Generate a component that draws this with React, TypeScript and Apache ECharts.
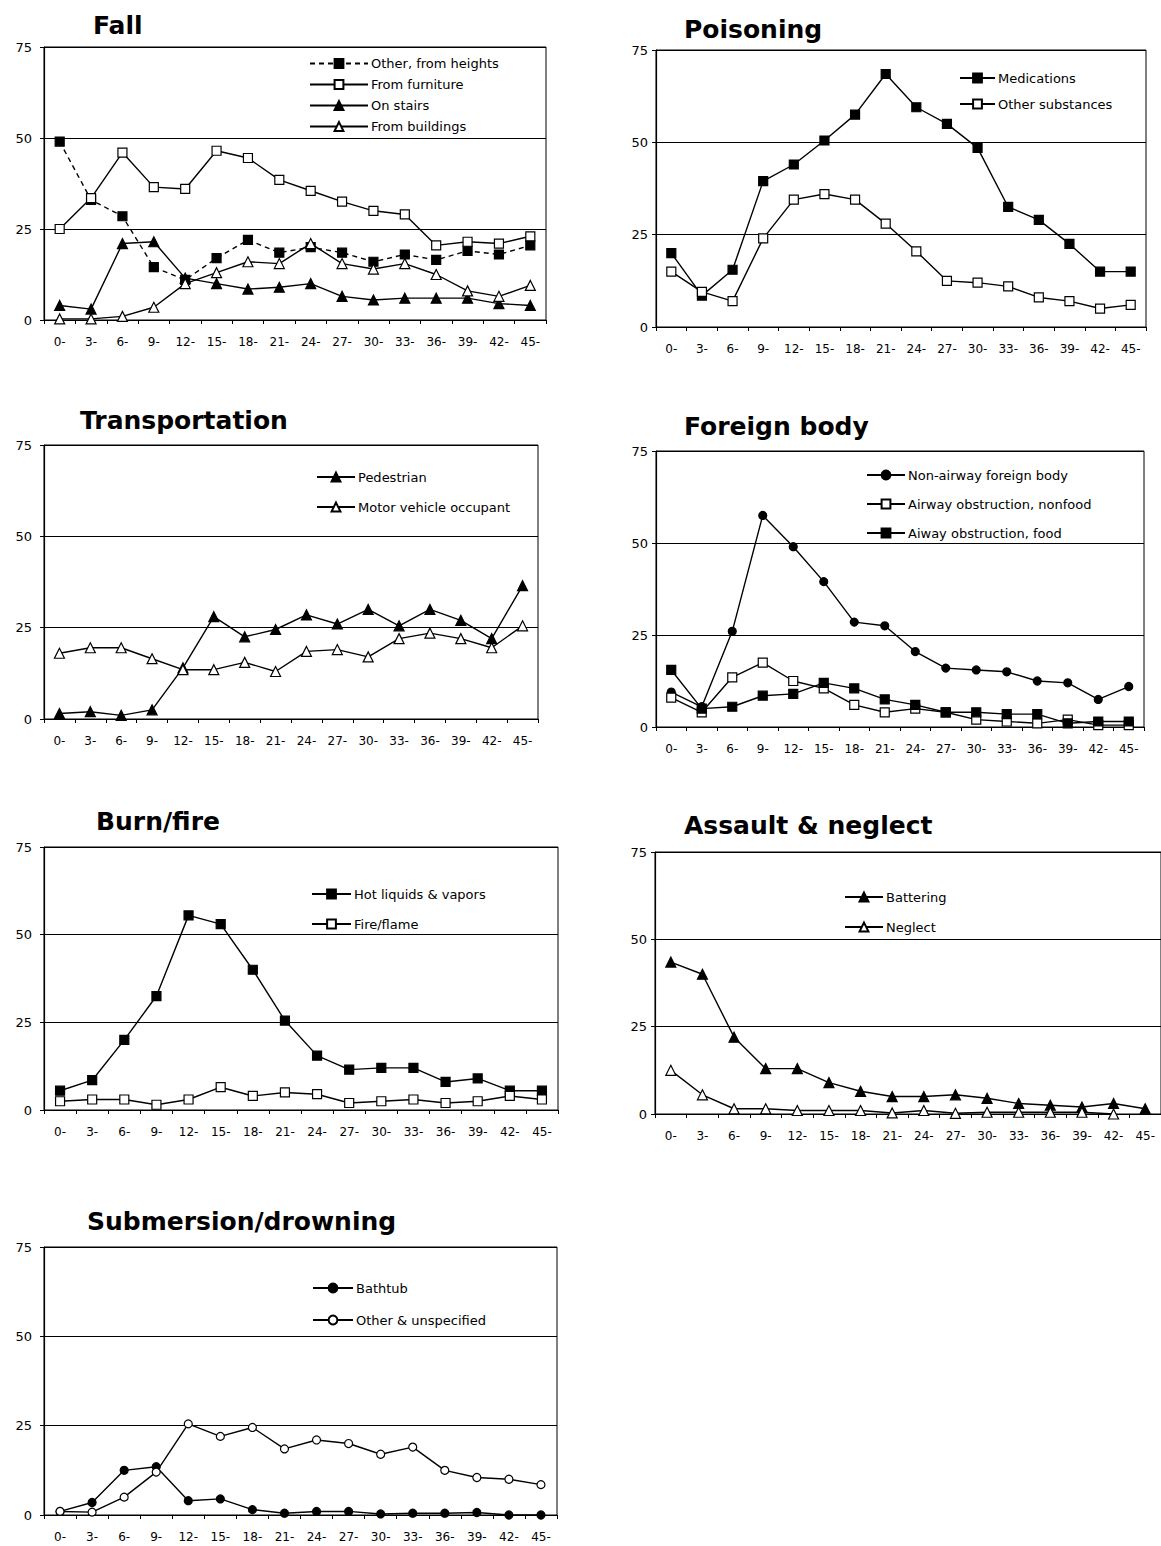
import React, { useEffect, useRef } from "react";
import * as echarts from "echarts";

const ageGroups = ["0-", "3-", "6-", "9-", "12-", "15-", "18-", "21-", "24-", "27-", "30-", "33-", "36-", "39-", "42-", "45-"];
const yTicks = [0, 25, 50, 75];

// Fall
const fallOtherHeights = [49, 33, 28.5, 14.5, 11, 17, 22, 18.5, 20, 18.5, 16, 18, 16.5, 19, 18, 20.5];
const fallFurniture = [25, 33.5, 46, 36.5, 36, 46.5, 44.5, 38.5, 35.5, 32.5, 30, 29, 20.5, 21.5, 21, 23];
const fallStairs = [4, 3, 21, 21.5, 11.5, 10, 8.5, 9, 10, 6.5, 5.5, 6, 6, 6, 4.5, 4];
const fallBuildings = [0.3, 0.3, 1, 3.5, 10, 13, 16, 15.5, 21, 15.5, 14, 15.5, 12.5, 8, 6.5, 9.5];

// Poisoning
const medications = [20, 8.5, 15.5, 39.5, 44, 50.5, 57.5, 68.5, 59.5, 55, 48.5, 32.5, 29, 22.5, 15, 15];
const otherSubstances = [15, 9.5, 7, 24, 34.5, 36, 34.5, 28, 20.5, 12.5, 12, 11, 8, 7, 5, 6];

// Transportation
const pedestrian = [1.5, 2, 1, 2.5, 14, 28, 22.5, 24.5, 28.5, 26, 30, 25.5, 30, 27, 22, 36.5];
const motorVehicle = [18, 19.5, 19.5, 16.5, 13.5, 13.5, 15.5, 13, 18.5, 19, 17, 22, 23.5, 22, 19.5, 25.5];

// Foreign body
const nonAirway = [9.5, 5.5, 26, 57.5, 49, 39.5, 28.5, 27.5, 20.5, 16, 15.5, 15, 12.5, 12, 7.5, 11];
const airwayNonfood = [8, 4, 13.5, 17.5, 12.5, 10.5, 6, 4, 5, 4, 2, 1.5, 1, 2, 0.5, 0.5];
const airwayFood = [15.5, 5, 5.5, 8.5, 9, 12, 10.5, 7.5, 6, 4, 4, 3.5, 3.5, 1, 1.5, 1.5];

// Burn/fire
const hotLiquids = [5.5, 8.5, 20, 32.5, 55.5, 53, 40, 25.5, 15.5, 11.5, 12, 12, 8, 9, 5.5, 5.5];
const fireFlame = [2.5, 3, 3, 1.5, 3, 6.5, 4, 5, 4.5, 2, 2.5, 3, 2, 2.5, 4, 3];

// Assault & neglect
const battering = [43.5, 40, 22, 13, 13, 9, 6.5, 5, 5, 5.5, 4.5, 3, 2.5, 2, 3, 1.5];
const neglect = [12.5, 5.5, 1.5, 1.5, 1, 1, 1, 0.3, 1, 0.2, 0.5, 0.5, 0.5, 0.5, 0, null];

// Submersion/drowning
const bathtub = [1, 3.5, 12.5, 13.5, 4, 4.5, 1.5, 0.5, 1, 1, 0.3, 0.5, 0.5, 0.7, 0, 0];
const otherUnspecified = [1, 0.8, 5, 12, 25.5, 22, 24.5, 18.5, 21, 20, 17, 19, 12.5, 10.5, 10, 8.5];

type SeriesDef = { name: string; data: (number | null)[]; symbol: string; filled: boolean; dashed?: boolean };

const panels: { title: string; series: SeriesDef[] }[] = [
  {
    title: "Fall",
    series: [
      { name: "Other, from heights", data: fallOtherHeights, symbol: "rect", filled: true, dashed: true },
      { name: "From furniture", data: fallFurniture, symbol: "rect", filled: false },
      { name: "On stairs", data: fallStairs, symbol: "triangle", filled: true },
      { name: "From buildings", data: fallBuildings, symbol: "triangle", filled: false },
    ],
  },
  {
    title: "Poisoning",
    series: [
      { name: "Medications", data: medications, symbol: "rect", filled: true },
      { name: "Other substances", data: otherSubstances, symbol: "rect", filled: false },
    ],
  },
  {
    title: "Transportation",
    series: [
      { name: "Pedestrian", data: pedestrian, symbol: "triangle", filled: true },
      { name: "Motor vehicle occupant", data: motorVehicle, symbol: "triangle", filled: false },
    ],
  },
  {
    title: "Foreign body",
    series: [
      { name: "Non-airway foreign body", data: nonAirway, symbol: "circle", filled: true },
      { name: "Airway obstruction, nonfood", data: airwayNonfood, symbol: "rect", filled: false },
      { name: "Aiway obstruction, food", data: airwayFood, symbol: "rect", filled: true },
    ],
  },
  {
    title: "Burn/fire",
    series: [
      { name: "Hot liquids & vapors", data: hotLiquids, symbol: "rect", filled: true },
      { name: "Fire/flame", data: fireFlame, symbol: "rect", filled: false },
    ],
  },
  {
    title: "Assault & neglect",
    series: [
      { name: "Battering", data: battering, symbol: "triangle", filled: true },
      { name: "Neglect", data: neglect, symbol: "triangle", filled: false },
    ],
  },
  {
    title: "Submersion/drowning",
    series: [
      { name: "Bathtub", data: bathtub, symbol: "circle", filled: true },
      { name: "Other & unspecified", data: otherUnspecified, symbol: "circle", filled: false },
    ],
  },
];

// layout (pixels)
const layout = [
  { tx: 93, ty: 13, g: [44, 47, 502, 273], lg: [309, 57, 58, 8], ym: 12 },
  { tx: 684, ty: 17, g: [656, 50, 490, 277], lg: [959, 71.5, 35, 13], ym: 8 },
  { tx: 80, ty: 408, g: [44, 445, 494, 274], lg: [316, 470.5, 38, 17], ym: 12 },
  { tx: 684, ty: 414, g: [656, 451, 488, 276], lg: [866, 468.5, 38, 16], ym: 8 },
  { tx: 96, ty: 809, g: [44, 847, 514, 263], lg: [311, 887.5, 39, 17], ym: 12 },
  { tx: 684, ty: 813, g: [655, 852, 506, 262], lg: [844, 890.5, 38, 17], ym: 8 },
  { tx: 87, ty: 1209, g: [44, 1247, 513, 268], lg: [312, 1281.5, 40, 19], ym: 12 },
];

const FONT = "'DejaVu Sans', 'Liberation Sans', Arial, sans-serif";

export default function App() {
  const ref = useRef<HTMLDivElement>(null);
  useEffect(() => {
    if (!ref.current) return;
    const chart = echarts.init(ref.current, undefined, { renderer: "svg" });
    const title: any[] = [];
    const grid: any[] = [];
    const xAxis: any[] = [];
    const yAxis: any[] = [];
    const legend: any[] = [];
    const series: any[] = [];
    panels.forEach((p, i) => {
      const L = layout[i];
      title.push({
        text: p.title,
        left: L.tx,
        top: L.ty,
        padding: 0,
        textStyle: { fontFamily: FONT, fontSize: 25, fontWeight: "bold", color: "#000" },
      });
      grid.push({
        left: L.g[0],
        top: L.g[1],
        width: L.g[2],
        height: L.g[3],
        show: true,
        borderColor: "#000",
        borderWidth: 1,
        backgroundColor: "transparent",
      });
      xAxis.push({
        type: "category",
        gridIndex: i,
        data: ageGroups,
        boundaryGap: true,
        axisLine: { show: true, lineStyle: { color: "#000", width: 1.2 } },
        axisTick: { show: true, interval: 0, length: 4, lineStyle: { color: "#000" } },
        axisLabel: { interval: 0, margin: 16, fontFamily: FONT, fontSize: 12, color: "#000" },
        splitLine: { show: false },
      });
      yAxis.push({
        type: "value",
        gridIndex: i,
        min: 0,
        max: yTicks[yTicks.length - 1],
        interval: 25,
        axisLine: { show: true, lineStyle: { color: "#000", width: 1.2 } },
        axisTick: { show: true, length: 4, lineStyle: { color: "#000" } },
        axisLabel: { margin: L.ym, fontFamily: FONT, fontSize: 13, color: "#000" },
        splitLine: { show: true, lineStyle: { color: "#000", width: 1 } },
      });
      legend.push({
        show: true,
        orient: "vertical",
        left: L.lg[0],
        top: L.lg[1],
        itemWidth: L.lg[2],
        itemHeight: 11,
        itemGap: L.lg[3],
        padding: 0,
        selectedMode: false,
        data: p.series.map((s) => s.name),
        textStyle: { fontFamily: FONT, fontSize: 13, color: "#000", lineHeight: 11, padding: [0, 0, 0, -2] },
      });
      p.series.forEach((s) => {
        const size = s.symbol === "triangle" ? 10 : s.symbol === "circle" ? 8 : 9;
        series.push({
          type: "line",
          name: s.name,
          data: s.data,
          xAxisIndex: i,
          yAxisIndex: i,
          symbol: s.symbol,
          symbolSize: size,
          showSymbol: true,
          showAllSymbol: true,
          connectNulls: false,
          lineStyle: { color: "#000", width: 1.4, type: s.dashed ? [5, 4] : "solid" },
          itemStyle: { color: s.filled ? "#000" : "#fff", borderColor: "#000", borderWidth: 1.2 },
          emphasis: { disabled: true },
          silent: true,
        });
      });
    });
    chart.setOption({
      animation: false,
      backgroundColor: "#fff",
      title,
      grid,
      xAxis,
      yAxis,
      legend,
      series,
    });
    return () => chart.dispose();
  }, []);
  return <div ref={ref} style={{ position: "absolute", left: 0, top: 0, width: 1161, height: 1546 }} />;
}
